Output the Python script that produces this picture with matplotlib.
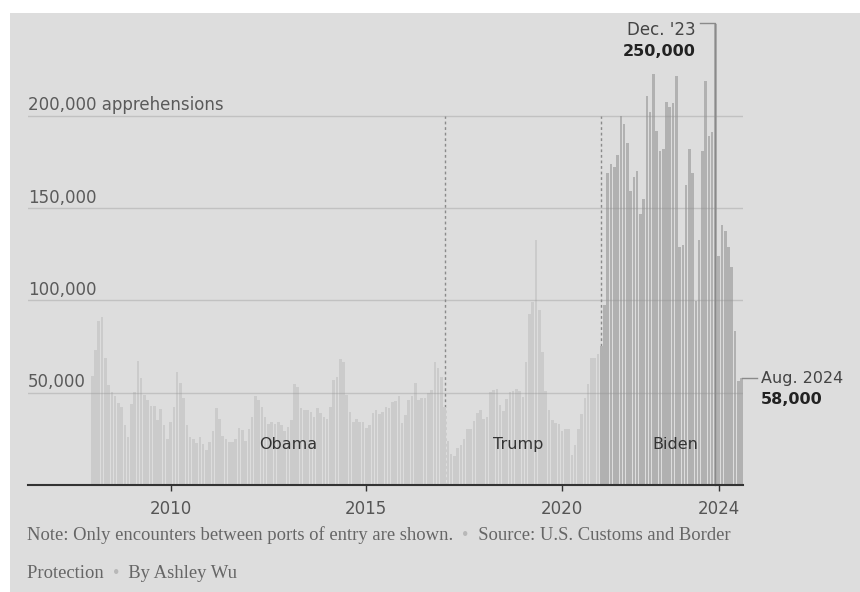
import numpy as np
import matplotlib
matplotlib.use('Agg')
import matplotlib.pyplot as plt
from matplotlib.patches import Rectangle

# Monthly apprehensions between ports of entry, in thousands (Jan..Dec)
y2008 = [59, 73, 89, 91, 69, 54, 50.5, 48, 44.5, 42, 32.5, 26]
y2009 = [44, 50.5, 67, 58, 49, 46, 43, 43, 35, 41, 32.5, 25]
y2010 = [34, 42, 61, 55, 47, 32.5, 26, 25, 23, 26, 22, 19]
y2011 = [23.5, 29, 41.5, 35.5, 26.5, 25, 23.5, 23.5, 25, 31, 30, 24]
y2012 = [30.5, 37, 48, 46, 42, 36.6, 33, 34, 33, 34, 32.5, 29]
y2013 = [31.5, 35, 54.5, 53, 41.5, 40.5, 40.5, 39.7, 37, 41.5, 38.8, 37]
y2014 = [35.5, 42, 57, 58.6, 68.5, 66.7, 48.7, 39.7, 34, 36, 34, 34]
y2015 = [30.7, 32.5, 39, 40.6, 38.6, 39.7, 42, 41.5, 45, 45.6, 48, 33.7]
y2016 = [37.9, 46, 48, 55, 46, 47, 47, 49.6, 51.4, 66.7, 63.4, 58.4]
y2017 = [42.5, 23.6, 16.6, 15.8, 19.9, 21.7, 25.0, 30.6, 30.6, 34.9, 39.0, 40.5]
y2018 = [35.9, 37.0, 50.3, 51.2, 51.9, 43.2, 40.0, 46.7, 50.6, 51.0, 51.9, 50.7]
y2019 = [47.9, 66.9, 92.8, 99.3, 132.9, 94.9, 71.9, 51.0, 40.5, 35.4, 33.5, 32.9]
y2020 = [29.2, 30.1, 30.4, 16.2, 21.6, 30.4, 38.3, 47.3, 54.8, 69.0, 69.0, 71.1]
y2021 = [75.3, 97.6, 169.2, 173.7, 172.0, 178.8, 200.1, 195.5, 185.5, 159, 167, 170]
y2022 = [147, 155, 210.8, 201.8, 222.6, 192.0, 181.2, 181.8, 207.3, 204.9, 206.7, 221.7]
y2023 = [128.9, 130.0, 162.3, 182.1, 169.2, 99.5, 132.6, 181.1, 218.7, 188.8, 191.1, 249.7]
y2024 = [124.2, 140.6, 137.5, 128.9, 117.9, 83.5, 56.4, 58.0]

years = list(range(2008, 2025))
by_year = [y2008, y2009, y2010, y2011, y2012, y2013, y2014, y2015, y2016,
           y2017, y2018, y2019, y2020, y2021, y2022, y2023, y2024]

terms = ['Obama', 'Trump', 'Biden']
term_label_x = [2013.0, 2018.88, 2022.9]
term_starts = [2017, 2021]
year_ticks = [2010, 2015, 2020, 2024]
grid_vals = [50000, 100000, 150000, 200000]
grid_labels = ['50,000', '100,000', '150,000', '200,000 apprehensions']

t, vals = [], []
for yr, arr in zip(years, by_year):
    for m, v in enumerate(arr):
        t.append(yr + m / 12)
        vals.append(v * 1000)
t = np.array(t); vals = np.array(vals)

BG = '#dddddd'
fig = plt.figure(figsize=(8.6, 5.92), dpi=100)
fig.patch.set_facecolor('white')
fig.patches.append(Rectangle((10 / 860, 0), 1, 1 - 13 / 592, transform=fig.transFigure,
                             facecolor=BG, edgecolor='none', zorder=-10))

ax = fig.add_axes([28 / 860, 107 / 592, 715 / 860, 461.5 / 592])
ax.set_facecolor('none')
ax.set_xlim(2006.36, 2024.62)
ax.set_ylim(0, 250000)

biden = t >= 2021
ax.bar(t[~biden], vals[~biden], width=0.066, color='#cbcbcb', linewidth=0, zorder=2)
ax.bar(t[biden], vals[biden], width=0.066, color='#b1b1b1', linewidth=0, zorder=2)

for v, lab in zip(grid_vals, grid_labels):
    ax.axhline(v, color='#8f8f8f', alpha=0.35, lw=1, zorder=3)
    ax.annotate(lab, xy=(0, v), xycoords=('axes fraction', 'data'), xytext=(0, 4),
                textcoords='offset points', ha='left', va='baseline',
                fontsize=12, color='#5a5a5a')

for s in term_starts:
    ax.plot([s, s], [0, 200000], ls=(0, (2, 2)), color='#8a8a8a', lw=1, zorder=1)

for name, x in zip(terms, term_label_x):
    ax.text(x, 22200, name, ha='center', va='center', fontsize=11.5, color='#333333', zorder=5)

# peak annotation
x_dec = 2023 + 11 / 12
ax.plot([x_dec - 0.4, x_dec, x_dec], [250000, 250000, 0], color='#8a8a8a', lw=1,
        zorder=4, clip_on=False)
ax.text(2023.42, 246500, "Dec. '23", ha='right', va='center', fontsize=12, color='#444444')
ax.text(2023.42, 235000, '250,000', ha='right', va='center', fontsize=11.5,
        fontweight='bold', color='#222222')

# latest month annotation
x_aug = 2024 + 7 / 12
ax.plot([x_aug, x_aug + 0.4], [58000, 58000], color='#8a8a8a', lw=1, clip_on=False, zorder=4)
ax.text(2025.08, 57500, 'Aug. 2024', ha='left', va='center', fontsize=11.5,
        color='#444444', clip_on=False)
ax.text(2025.08, 46500, '58,000', ha='left', va='center', fontsize=11.5,
        fontweight='bold', color='#222222', clip_on=False)

for side in ['top', 'right', 'left']:
    ax.spines[side].set_visible(False)
ax.spines['bottom'].set_color('#333333')
ax.spines['bottom'].set_linewidth(1.5)
ax.spines['bottom'].set_zorder(6)
ax.set_yticks([])
ax.set_xticks(year_ticks)
ax.set_xticklabels([str(y) for y in year_ticks])
ax.tick_params(axis='x', direction='out', length=4.5, width=1, color='#333333',
               labelsize=12, labelcolor='#555555', pad=6)

# footer
fig.canvas.draw()
r = fig.canvas.get_renderer()
def text_run(x, y, parts):
    for s, c in parts:
        tx = fig.text(x, y, s, color=c, fontsize=13.4, family='Liberation Serif', va='center')
        bb = tx.get_window_extent(renderer=r)
        x += bb.width / fig.bbox.width

gap = '  '
text_run(27 / 860, 1 - 535 / 592,
         [('Note: Only encounters between ports of entry are shown.' + gap, '#666666'),
          ('\u2022', '#b8b8b8'),
          (gap + 'Source: U.S. Customs and Border', '#666666')])
text_run(27 / 860, 1 - 573 / 592,
         [('Protection' + gap, '#666666'), ('\u2022', '#b8b8b8'),
          (gap + 'By Ashley Wu', '#666666')])

fig.savefig('out.png', dpi=100, facecolor=fig.get_facecolor())
